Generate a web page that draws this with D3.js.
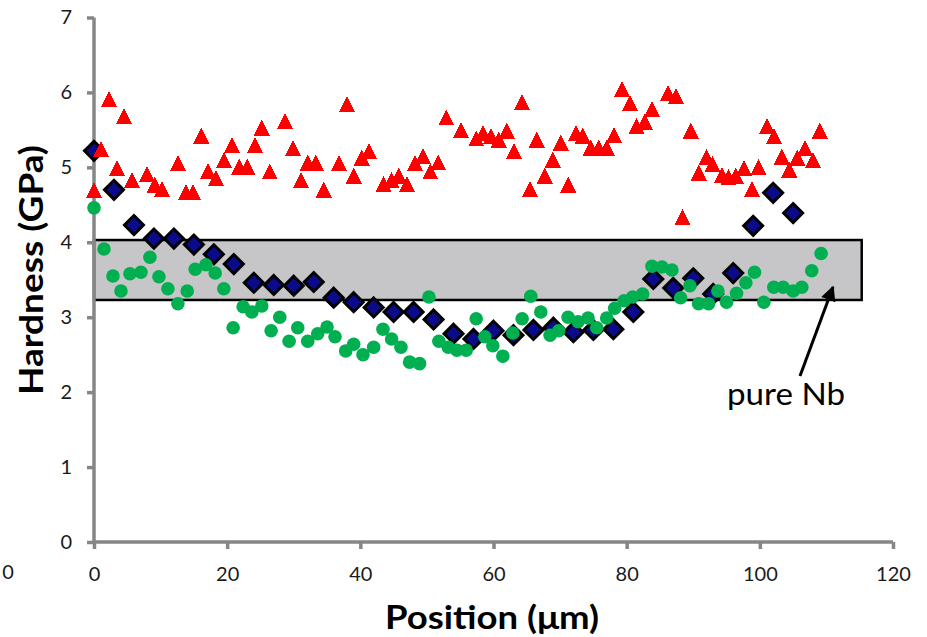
<!DOCTYPE html>
<html>
<head>
<meta charset="utf-8">
<script src="https://cdn.jsdelivr.net/npm/d3@7"></script>
<style>
  html, body { margin: 0; padding: 0; background: #fff; }
  svg { display: block; }
  text { font-family: Lato, "Open Sans", sans-serif; }
</style>
</head>
<body>
<svg id="chart" width="927" height="637"></svg>
<script>
// Hardness profiles across the sample (Position in µm, Hardness in GPa)

// Series 1: dark blue diamonds
const diamondPos = [0, 3, 6, 9, 12, 15, 18, 21, 24, 27, 30, 33, 36, 39, 42, 45, 48, 51,
  54, 57, 60, 63, 66, 69, 72, 75, 78, 81, 84, 87, 90, 93, 96, 99, 102, 105];
const diamondHardness = [5.22, 4.70, 4.23, 4.05, 4.05, 3.97, 3.84, 3.71, 3.46, 3.43, 3.42, 3.47,
  3.26, 3.20, 3.13, 3.07, 3.07, 2.97, 2.78, 2.71, 2.82, 2.76, 2.83, 2.86, 2.80, 2.83,
  2.84, 3.07, 3.51, 3.39, 3.52, 3.31, 3.59, 4.22, 4.66, 4.39];

// Series 2: red triangles
const trianglePos = [0, 1.05, 2.25, 3.45, 4.5, 5.7, 7.95, 9.15, 10.2, 12.6, 13.8, 14.9, 16.1,
  17.1, 18.3, 19.5, 20.7, 21.8, 23.0, 24.2, 25.2, 26.4, 28.7, 29.9, 31.1, 32.1, 33.3, 34.5,
  36.8, 38.0, 39.0, 40.2, 41.3, 43.5, 44.7, 45.8, 47.0, 48.2, 49.4, 50.5, 51.7, 52.9, 55.1,
  57.4, 58.4, 59.6, 60.8, 62.0, 63.1, 64.3, 65.5, 66.5, 67.7, 68.9, 70.1, 71.2, 72.4, 73.4,
  74.6, 75.8, 77.0, 78.1, 79.3, 80.5, 81.5, 82.7, 83.8, 86.2, 87.4, 88.4, 89.6, 90.8, 92.0,
  92.9, 94.3, 95.3, 96.4, 97.6, 98.8, 99.8, 101.1, 102.1, 103.3, 104.4, 105.6, 106.8, 108.0,
  109.0];
const triangleHardness = [4.70, 5.25, 5.91, 4.99, 5.69, 4.83, 4.91, 4.77, 4.71, 5.06, 4.67, 4.67,
  5.42, 4.95, 4.86, 5.10, 5.30, 5.01, 5.01, 5.30, 5.53, 4.95, 5.62, 5.26, 4.83, 5.06, 5.06,
  4.70, 5.06, 5.85, 4.89, 5.13, 5.22, 4.78, 4.83, 4.89, 4.78, 5.06, 5.15, 4.95, 5.07, 5.67,
  5.50, 5.39, 5.46, 5.42, 5.37, 5.49, 5.22, 5.87, 4.71, 5.37, 4.89, 5.10, 5.33, 4.77, 5.46,
  5.42, 5.26, 5.27, 5.26, 5.43, 6.05, 5.86, 5.55, 5.61, 5.78, 5.99, 5.95, 4.34, 5.49, 4.93,
  5.14, 5.05, 4.90, 4.87, 4.89, 4.99, 4.71, 5.01, 5.55, 5.42, 5.14, 4.97, 5.13, 5.26, 5.10,
  5.49];

// Series 3: green circles
const circlePos = [0, 1.5, 2.85, 4.05, 5.4, 7.05, 8.4, 9.75, 11.1, 12.6, 14.0, 15.2, 16.8, 18.2,
  19.5, 20.9, 22.4, 23.7, 25.2, 26.6, 27.9, 29.3, 30.6, 32.1, 33.6, 35.0, 36.2, 37.8, 39.0,
  40.4, 42.0, 43.4, 44.7, 46.1, 47.4, 48.9, 50.3, 51.8, 53.2, 54.5, 55.9, 57.4, 58.7, 59.9,
  61.4, 62.9, 64.3, 65.6, 67.1, 68.5, 69.8, 71.2, 72.7, 74.2, 75.5, 77.0, 78.2, 79.6, 80.9,
  82.4, 83.8, 85.3, 86.8, 88.1, 89.5, 90.8, 92.3, 93.7, 95.0, 96.5, 97.9, 99.2, 100.6, 102.1,
  103.5, 105.0, 106.3, 107.8, 109.2];
const circleHardness = [4.46, 3.91, 3.55, 3.35, 3.58, 3.60, 3.80, 3.54, 3.38, 3.18, 3.35, 3.64,
  3.70, 3.59, 3.38, 2.86, 3.14, 3.07, 3.15, 2.82, 3.00, 2.68, 2.86, 2.68, 2.78, 2.87, 2.74,
  2.55, 2.64, 2.50, 2.60, 2.84, 2.71, 2.60, 2.40, 2.38, 3.27, 2.68, 2.60, 2.56, 2.56, 2.98,
  2.74, 2.62, 2.48, 2.79, 2.98, 3.28, 3.07, 2.76, 2.82, 3.00, 2.94, 2.99, 2.86, 2.99, 3.12,
  3.22, 3.27, 3.31, 3.68, 3.67, 3.63, 3.26, 3.42, 3.18, 3.18, 3.35, 3.20, 3.32, 3.46, 3.60,
  3.20, 3.40, 3.40, 3.35, 3.40, 3.62, 3.85];

// Hardness range of pure Nb (shaded band) and its extent along x
const pureNbRange = [3.23, 4.03];
const pureNbExtent = [0, 115.3];

const xTicks = [0, 20, 40, 60, 80, 100, 120];
const yTicks = [0, 1, 2, 3, 4, 5, 6, 7];

const svg = d3.select("#chart");
const x = d3.scaleLinear().domain([0, 120]).range([94, 893]);
const y = d3.scaleLinear().domain([0, 7]).range([542, 17.5]);

const axisColor = "#868686";
const labelColor = "#1a1a1a";

// Shaded band for pure Nb
svg.append("rect")
  .attr("x", x(pureNbExtent[0]))
  .attr("y", y(pureNbRange[1]))
  .attr("width", x(pureNbExtent[1]) - x(pureNbExtent[0]))
  .attr("height", y(pureNbRange[0]) - y(pureNbRange[1]))
  .attr("fill", "#c6c6c8")
  .attr("stroke", "#000")
  .attr("stroke-width", 2.5);

// Axes
const yAxis = svg.append("g")
  .attr("transform", `translate(${x(0)},0)`)
  .call(d3.axisLeft(y).tickValues(yTicks).tickFormat(d3.format("d")).tickSize(7).tickPadding(15));
const xAxis = svg.append("g")
  .attr("transform", `translate(0,${y(0)})`)
  .call(d3.axisBottom(x).tickValues(xTicks).tickFormat(d3.format("d")).tickSize(7).tickPadding(18));

[xAxis, yAxis].forEach(g => {
  g.select(".domain").attr("stroke", axisColor).attr("stroke-width", 3.5);
  g.selectAll(".tick line").attr("stroke", axisColor).attr("stroke-width", 3.5);
  g.selectAll(".tick text")
    .attr("fill", labelColor)
    .style("font-size", "20px")
    .style("font-family", "Lato, sans-serif");
});
// domain paths without the outer end caps
yAxis.select(".domain").attr("d", `M0,${y(7)}V${y(0)}`);
xAxis.select(".domain").attr("d", `M${x(0)},0H${x(120)}`);

// Stray zero label at the lower left
svg.append("text")
  .attr("x", 8).attr("y", 579)
  .attr("text-anchor", "middle")
  .attr("fill", labelColor)
  .style("font-size", "20px")
  .text("0");

// Diamonds
const diamonds = diamondPos.map((p, i) => ({ p, h: diamondHardness[i] }));
svg.append("g").selectAll("path")
  .data(diamonds)
  .join("path")
  .attr("transform", d => `translate(${x(d.p)},${y(d.h)})`)
  .attr("d", "M0,-9.5L9.5,0L0,9.5L-9.5,0Z")
  .attr("fill", "#0a0a8a")
  .attr("stroke", "#000")
  .attr("stroke-width", 3)
  .attr("stroke-linejoin", "miter");

// Triangles
const triangles = trianglePos.map((p, i) => ({ p, h: triangleHardness[i] }));
svg.append("g").selectAll("path")
  .data(triangles)
  .join("path")
  .attr("transform", d => `translate(${x(d.p)},${y(d.h)})`)
  .attr("d", "M0,-8L8,8L-8,8Z")
  .attr("fill", "#ff0000")
  .attr("shape-rendering", "crispEdges");

// Circles
const circles = circlePos.map((p, i) => ({ p, h: circleHardness[i] }));
svg.append("g").selectAll("circle")
  .data(circles)
  .join("circle")
  .attr("cx", d => x(d.p))
  .attr("cy", d => y(d.h))
  .attr("r", 6.8)
  .attr("fill", "#00b050");

// Arrow pointing at the pure Nb band
svg.append("defs").append("marker")
  .attr("id", "arrowhead")
  .attr("viewBox", "0 0 10 10")
  .attr("refX", 9).attr("refY", 5)
  .attr("markerWidth", 5).attr("markerHeight", 5)
  .attr("markerUnits", "strokeWidth")
  .attr("orient", "auto")
  .append("path")
  .attr("d", "M0,0L10,5L0,10Z")
  .attr("fill", "#000");

svg.append("line")
  .attr("x1", 800).attr("y1", 376)
  .attr("x2", 833).attr("y2", 287)
  .attr("stroke", "#000")
  .attr("stroke-width", 3)
  .attr("marker-end", "url(#arrowhead)");

svg.append("text")
  .attr("x", 727).attr("y", 405)
  .attr("fill", "#000")
  .attr("textLength", 118)
  .attr("lengthAdjust", "spacingAndGlyphs")
  .style("font-size", "30px")
  .text("pure Nb");

// Axis titles
svg.append("text")
  .attr("x", 492).attr("y", 629)
  .attr("text-anchor", "middle")
  .attr("fill", "#000")
  .attr("textLength", 214)
  .attr("lengthAdjust", "spacingAndGlyphs")
  .style("font-size", "33px")
  .style("font-weight", "bold")
  .text("Position (μm)");

svg.append("text")
  .attr("transform", "translate(43,270) rotate(-90)")
  .attr("text-anchor", "middle")
  .attr("fill", "#000")
  .attr("textLength", 250)
  .attr("lengthAdjust", "spacingAndGlyphs")
  .style("font-size", "33px")
  .style("font-weight", "bold")
  .text("Hardness (GPa)");
</script>
</body>
</html>
